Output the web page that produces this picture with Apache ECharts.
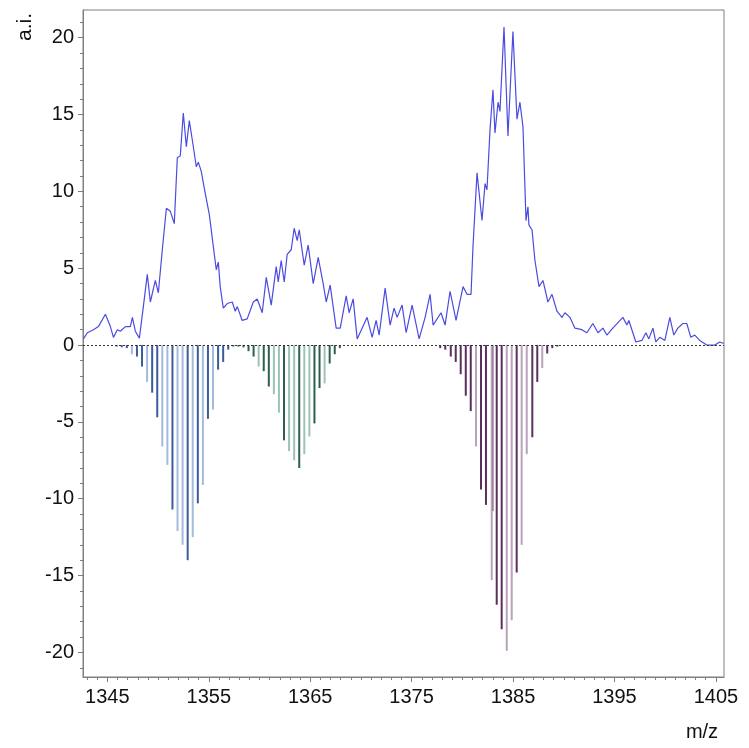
<!DOCTYPE html>
<html><head><meta charset="utf-8">
<script src="https://cdn.jsdelivr.net/npm/echarts@6/dist/echarts.min.js"></script>
<style>html,body{margin:0;padding:0;background:#fff}#c{width:749px;height:748px}</style>
</head><body><div id="c"></div>
<script>
// Measured spectrum (a.i. vs m/z)
const traceMz = [1342.64,1343.03,1343.63,1344.12,1344.81,1345.30,1345.60,1345.99,1346.28,1346.78,1347.27,1347.47,1347.76,1348.16,1348.55,1348.94,1349.24,1349.73,1350.03,1350.42,1350.82,1351.21,1351.60,1351.90,1352.19,1352.49,1352.79,1353.08,1353.48,1353.77,1353.97,1354.26,1354.56,1355.05,1355.15,1355.45,1355.74,1355.94,1356.13,1356.43,1356.82,1357.32,1357.61,1357.81,1358.30,1358.79,1359.39,1359.78,1360.27,1360.67,1361.16,1361.65,1361.85,1362.14,1362.44,1362.73,1363.13,1363.42,1363.72,1363.92,1364.41,1364.80,1365.30,1365.79,1366.28,1366.58,1366.97,1367.56,1367.96,1368.55,1368.84,1369.24,1369.63,1370.12,1370.61,1371.11,1371.50,1371.80,1372.39,1372.88,1373.27,1373.57,1374.06,1374.46,1375.05,1375.74,1376.33,1376.82,1377.12,1377.90,1378.30,1378.79,1379.38,1380.07,1380.46,1380.86,1381.05,1381.45,1381.94,1382.24,1382.43,1382.73,1383.02,1383.22,1383.52,1383.71,1384.11,1384.50,1384.99,1385.39,1385.68,1385.98,1386.28,1386.47,1386.57,1386.87,1387.16,1387.56,1387.95,1388.44,1388.84,1389.33,1389.82,1390.12,1390.61,1391.10,1391.79,1392.28,1392.87,1393.37,1393.86,1394.25,1394.84,1395.83,1396.22,1396.42,1397.11,1397.70,1398.10,1398.39,1398.79,1399.08,1399.47,1399.97,1400.46,1400.85,1401.25,1401.74,1402.13,1402.53,1402.92,1403.41,1404.10,1404.89,1405.38,1405.78];
const traceInt = [0.4,0.8,1.0,1.2,2.0,1.2,0.5,1.0,0.9,1.2,1.2,1.8,0.9,0.45,2.5,4.6,2.8,4.2,3.4,6.2,8.9,8.7,7.9,12.2,12.3,15.1,12.9,14.6,12.9,11.6,11.9,11.3,10.2,8.5,8.0,6.4,4.9,5.4,3.8,2.4,2.7,2.8,2.2,2.5,1.6,1.7,2.8,3.0,2.1,4.4,2.6,5.1,4.1,5.5,4.1,5.9,6.2,7.6,6.8,7.5,5.2,6.5,4.0,5.7,4.0,2.8,3.9,1.1,1.1,3.2,2.1,3.0,0.4,1.1,1.8,0.5,1.6,0.65,3.7,1.3,2.4,1.8,2.6,0.8,2.6,0.4,1.8,3.3,1.3,2.1,1.3,3.5,1.6,3.8,3.3,3.3,6.4,11.2,8.1,10.5,10.1,14.0,16.6,13.8,15.8,15.2,20.7,13.6,20.4,14.7,15.8,14.2,8.1,9.0,7.8,7.5,5.5,3.8,4.2,2.8,3.3,2.2,1.8,2.1,1.8,1.1,1.0,0.8,1.4,0.8,1.1,0.65,1.1,1.8,1.3,1.6,0.2,0.3,0.8,0.4,1.1,0.2,0.5,0.3,1.8,0.65,1.1,1.4,1.4,0.5,0.65,0.3,0.0,0.0,0.2,0.1];

// Simulated isotope patterns (drawn downward)
const g1DarkMz  = [1345.92,1346.42,1346.92,1347.92,1348.42,1349.42,1349.92,1351.42,1352.92,1353.92,1354.92,1355.92,1356.42,1356.92,1357.42];
const g1DarkVal = [-0.1,-0.15,-0.2,-0.75,-1.4,-3.1,-4.7,-10.7,-14.0,-10.3,-4.8,-1.6,-1.1,-0.3,-0.1];
const g1LightMz  = [1347.42,1348.92,1350.42,1350.92,1351.92,1352.42,1353.42,1354.42,1355.42];
const g1LightVal = [-0.6,-2.4,-6.6,-7.8,-12.1,-13.0,-12.5,-9.1,-4.2];

const g2DarkMz  = [1357.92,1358.42,1358.92,1359.42,1360.42,1360.92,1362.42,1363.92,1365.42,1365.92,1366.92,1367.42,1367.92];
const g2DarkVal = [-0.1,-0.15,-0.4,-0.75,-1.7,-2.7,-6.2,-8.0,-5.1,-2.8,-1.2,-0.6,-0.2];
const g2LightMz  = [1359.92,1361.42,1361.92,1362.92,1363.42,1364.42,1364.92,1366.42];
const g2LightVal = [-1.4,-3.2,-4.4,-6.9,-7.5,-7.1,-5.95,-2.5];

const g3DarkMz  = [1377.82,1378.32,1378.86,1379.35,1379.84,1380.34,1380.83,1381.84,1382.33,1382.97,1383.39,1383.88,1385.36,1386.90,1387.39,1388.37,1388.87,1389.37];
const g3DarkVal = [-0.2,-0.3,-0.75,-1.1,-1.9,-3.3,-4.3,-9.4,-10.4,-10.8,-16.9,-18.5,-14.8,-6.0,-2.4,-0.55,-0.2,-0.1];
const g3LightMz  = [1381.35,1382.90,1384.38,1384.87,1385.85,1386.35,1387.88];
const g3LightVal = [-6.6,-15.3,-19.9,-17.9,-13.0,-7.1,-1.5];

const xMajorTicks = [1345,1355,1365,1375,1385,1395,1405];
const yMajorTicks = [-20,-15,-10,-5,0,5,10,15,20];
const xMinorTicks = []; for (let v = 1343; v <= 1405; v++) xMinorTicks.push(v);
const yMinorTicks = []; for (let v = -21; v <= 21; v++) yMinorTicks.push(v);

const X_MIN = 1342.6, X_MAX = 1405.8, Y_MIN = -21.6, Y_MAX = 21.8;
const AXIS_COLOR = '#7f7f7f';
const FONT = 'Liberation Sans, Arial, sans-serif';

function pairs(a, b) { return a.map((v, i) => [v, b[i]]); }
function stickSeries(name, mz, val, color) {
  return {
    type: 'custom', name: name, data: pairs(mz, val), silent: true, animation: false, z: 2,
    encode: { x: 0, y: 1 },
    renderItem: function (params, api) {
      const p0 = api.coord([api.value(0), 0]);
      const p1 = api.coord([api.value(0), api.value(1)]);
      return { type: 'line', shape: { x1: p0[0], y1: p0[1], x2: p1[0], y2: p1[1] },
               style: { stroke: color, lineWidth: 2 } };
    }
  };
}

const chart = echarts.init(document.getElementById('c'), null, { renderer: 'canvas' });
chart.setOption({
  animation: false,
  backgroundColor: '#fff',
  grid: { left: 83, right: 25, top: 10, bottom: 71, show: true, borderColor: AXIS_COLOR, borderWidth: 1, backgroundColor: 'transparent' },
  xAxis: [
    { type: 'value', min: X_MIN, max: X_MAX, position: 'bottom',
      axisLine: { show: true, onZero: false, lineStyle: { color: AXIS_COLOR } },
      axisTick: { show: true, customValues: xMajorTicks, length: 5, lineStyle: { color: AXIS_COLOR } },
      axisLabel: { customValues: xMajorTicks, formatter: function (v) { return String(v); },
                   fontSize: 20, color: '#111', margin: 10, fontFamily: FONT },
      splitLine: { show: false } },
    { type: 'value', min: X_MIN, max: X_MAX, position: 'bottom',
      axisLine: { show: false, onZero: false },
      axisTick: { show: true, customValues: xMinorTicks, length: 3, lineStyle: { color: AXIS_COLOR } },
      axisLabel: { show: false }, splitLine: { show: false } }
  ],
  yAxis: [
    { type: 'value', min: Y_MIN, max: Y_MAX, position: 'left',
      axisLine: { show: true, onZero: false, lineStyle: { color: AXIS_COLOR } },
      axisTick: { show: true, customValues: yMajorTicks, length: 5, lineStyle: { color: AXIS_COLOR } },
      axisLabel: { customValues: yMajorTicks, formatter: function (v) { return String(v); },
                   fontSize: 20, color: '#111', margin: 9, fontFamily: FONT },
      splitLine: { show: false } },
    { type: 'value', min: Y_MIN, max: Y_MAX, position: 'left',
      axisLine: { show: false, onZero: false },
      axisTick: { show: true, customValues: yMinorTicks, length: 3, lineStyle: { color: AXIS_COLOR } },
      axisLabel: { show: false }, splitLine: { show: false } }
  ],
  graphic: [
    { type: 'text', x: 25, y: 27, rotation: Math.PI / 2,
      style: { text: 'a.i.', fontSize: 21, fontFamily: FONT, fill: '#111', align: 'center', verticalAlign: 'middle' } },
    { type: 'text', x: 702, y: 732,
      style: { text: 'm/z', fontSize: 20, fontFamily: FONT, fill: '#111', align: 'center', verticalAlign: 'middle' } }
  ],
  series: [
    stickSeries('g1d', g1DarkMz, g1DarkVal, '#3a5c9c'),
    stickSeries('g1l', g1LightMz, g1LightVal, '#a4badb'),
    stickSeries('g2d', g2DarkMz, g2DarkVal, '#2c5f52'),
    stickSeries('g2l', g2LightMz, g2LightVal, '#9dc3b6'),
    stickSeries('g3d', g3DarkMz, g3DarkVal, '#5a2e5d'),
    stickSeries('g3l', g3LightMz, g3LightVal, '#baa2ba'),
    { type: 'line', name: 'trace', data: pairs(traceMz, traceInt), showSymbol: false, symbol: 'none',
      lineStyle: { color: '#4b4be2', width: 1.2 }, z: 3, silent: true,
      markLine: { silent: true, symbol: ['none', 'none'], label: { show: false },
        lineStyle: { type: [2, 2], color: '#333', width: 1 }, data: [{ yAxis: 0 }] } }
  ]
});
</script>
</body></html>
